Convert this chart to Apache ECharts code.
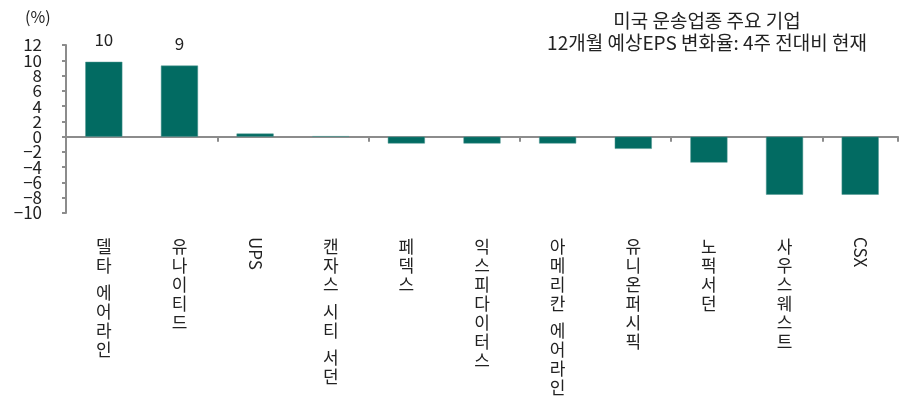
<!DOCTYPE html>
<html><head><meta charset="utf-8">
<script src="https://cdn.jsdelivr.net/npm/echarts@6/dist/echarts.min.js"></script>
<style>html,body{margin:0;padding:0;background:#fff}#c{width:900px;height:403px}</style>
</head><body><div id="c"></div>
<script>
const categories = ['델타 에어라인','유나이티드','UPS','캔자스 시티 서던','페덱스','익스피다이터스','아메리칸 에어라인','유니온퍼시픽','노퍽서던','사우스웨스트','CSX'];
const values = [9.8, 9.3, 0.4, 0.05, -0.9, -0.9, -0.9, -1.6, -3.4, -7.6, -7.6];
const labeledIdx = [0, 1];
const yTicks = {min: -10, max: 12, interval: 2};
const titleLines = ['미국 운송업종 주요 기업', '12개월 예상EPS 변화율: 4주 전대비 현재'];
const unitLabel = '(%)';

const FONT = '"Noto Sans CJK KR", sans-serif';
const TXT = '#222';
const AX = '#8c8c8c';
const BAR = '#026b62';
const isLatin = s => /^[A-Za-z]+$/.test(s);
const fmtNum = v => v < 0 ? '\u2212' + Math.abs(v) : String(v);
// ticks split between two overlaid axes so adjacent (overlapping) labels are not auto-hidden
const onA = v => Math.round((v - yTicks.min) / yTicks.interval) % 2 === 1;

const yBase = {
  type: 'value', min: yTicks.min, max: yTicks.max, interval: yTicks.interval,
  position: 'left', splitLine: {show: false}
};
const yLabel = pick => ({
  color: TXT, margin: 24, fontFamily: FONT, fontSize: 17,
  showMinLabel: true, showMaxLabel: true, hideOverlap: false,
  formatter: v => pick(v) ? fmtNum(v) : ''
});

const chart = echarts.init(document.getElementById('c'));
chart.setOption({
  animation: false,
  textStyle: {fontFamily: FONT},
  title: {
    text: titleLines.join('\n'),
    left: 702, top: 5, textAlign: 'center',
    textStyle: {fontFamily: FONT, fontSize: 19, fontWeight: 'normal', color: TXT, lineHeight: 22}
  },
  graphic: [{type: 'text', left: 25, top: 9, style: {text: unitLabel, fontFamily: FONT, fontSize: 16, fill: TXT}}],
  grid: {left: 66, right: 2, top: 45, bottom: 190, containLabel: false},
  xAxis: [
    {type: 'category', data: categories, boundaryGap: true,
     axisLine: {show: true, onZero: true, lineStyle: {color: AX, width: 2}},
     axisTick: {show: true, length: 5, lineStyle: {color: AX, width: 2}},
     axisLabel: {show: false}},
    {type: 'category', data: categories, position: 'bottom',
     axisLine: {show: false, onZero: false}, axisTick: {show: false},
     axisLabel: {show: true, interval: 0, margin: 24, color: TXT, fontSize: 6, lineHeight: 8,
       formatter: v => isLatin(v) ? '' : v.split('').map(ch => ch === ' ' ? '{s|\u00a0}' : '{c|' + ch + '}').join('\n'),
       rich: {c: {fontSize: 17, lineHeight: 19, fontFamily: FONT, color: TXT}, s: {fontSize: 6, lineHeight: 8}}}},
    {type: 'category', data: categories, position: 'bottom',
     axisLine: {show: false, onZero: false}, axisTick: {show: false},
     axisLabel: {show: true, interval: 0, margin: 24, rotate: -90, fontSize: 17, color: TXT, fontFamily: FONT,
       formatter: v => isLatin(v) ? v : ''}}
  ],
  yAxis: [
    Object.assign({}, yBase, {
      axisLine: {show: true, onZero: false, lineStyle: {color: AX, width: 2}},
      axisTick: {show: true, length: 4, lineStyle: {color: AX, width: 2}},
      axisLabel: yLabel(onA)}),
    Object.assign({}, yBase, {
      axisLine: {show: false, onZero: false}, axisTick: {show: false},
      axisLabel: yLabel(v => !onA(v))})
  ],
  series: [{
    type: 'bar', xAxisIndex: 0, yAxisIndex: 0, barWidth: '49%',
    itemStyle: {color: BAR, borderColor: '#4e9690', borderWidth: 0.5},
    data: values.map((v, i) => ({
      value: v,
      label: {show: labeledIdx.includes(i), position: 'top', distance: 14, fontSize: 17,
        color: TXT, fontFamily: FONT, formatter: p => Math.round(p.value)}
    }))
  }]
});
</script></body></html>
